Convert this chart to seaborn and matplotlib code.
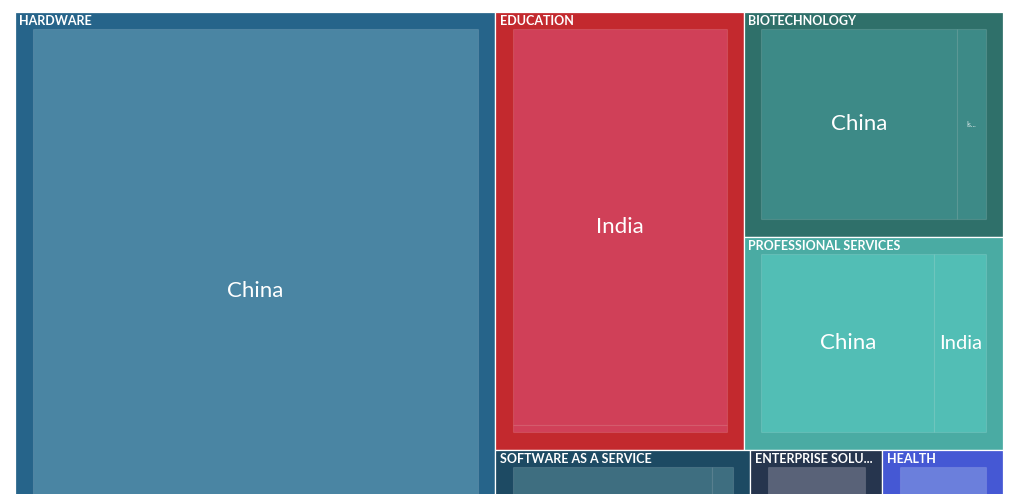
import matplotlib
matplotlib.use("Agg")
import matplotlib.pyplot as plt
from matplotlib.patches import Rectangle
import seaborn as sns

# Sector totals and the countries inside each sector
sectors = ["HARDWARE", "EDUCATION", "BIOTECHNOLOGY", "PROFESSIONAL SERVICES",
           "SOFTWARE AS A SERVICE", "ENTERPRISE SOLUTIONS", "HEALTH"]
sector_values = [268.0, 109.0, 58.3, 55.2, 30.6, 15.8, 14.5]
countries = [["China"], ["India", "China"], ["China", "Israel"], ["China", "India"],
             ["China", "India"], ["China"], ["China"]]
country_values = [[268.0], [107.1, 1.9], [50.7, 7.6], [42.5, 12.7],
                  [27.6, 3.0], [15.8], [14.5]]

outer_colors = ["#26648A", "#C3292E", "#2F706A", "#4AABA3", "#1D4A63", "#26354E", "#4558D4"]
inner_colors = ["#4A85A3", "#D04058", "#3D8A87", "#52BEB5", "#3E6E80", "#596278", "#6B7FDC"]

# nesting of the tiles (h = side by side, v = stacked)
groups = ("h", [0, ("v", [("h", [1, ("v", [2, 3])]), ("h", [4, 5, 6])])])

W, H = 988.0, 558.0
VISIBLE = 482.0  # part of the treemap that fits in the picture
PAD_L, PAD_R, PAD_T, PAD_B = 17.5, 17.0, 17.0, 18.0


def total(node):
    if isinstance(node, int):
        return sector_values[node]
    return sum(total(k) for k in node[1])


def place(node, x, y, w, h, out):
    if isinstance(node, int):
        out[node] = (x, y, w, h)
        return
    d, kids = node
    s = total(node)
    for k in kids:
        f = total(k) / s
        if d == "h":
            place(k, x, y, w * f, h, out)
            x += w * f
        else:
            place(k, x, y, w, h * f, out)
            y += h * f


def split(vals, x, y, w, h):
    s = sum(vals)
    rects = []
    for v in vals:
        f = v / s
        if w >= h:
            rects.append((x, y, w * f, h))
            x += w * f
        else:
            rects.append((x, y, w, h * f))
            y += h * f
    return rects


sns.set_style("white")
plt.rcParams["font.family"] = ["Lato", "DejaVu Sans"]

fig = plt.figure(figsize=(10.24, 4.94), dpi=100)
ax = fig.add_axes([15 / 1024, (494 - 12 - H) / 494, W / 1024, H / 494])
ax.set_xlim(0, W)
ax.set_ylim(H, 0)
ax.axis("off")
fig.canvas.draw()
renderer = fig.canvas.get_renderer()


def fit_text(t, maxw):
    txt = t.get_text()
    while t.get_window_extent(renderer).width > maxw and len(txt) > 1:
        txt = txt[:-1]
        t.set_text(txt.rstrip() + "...")


tiles = {}
place(groups, 0, 0, W, H, tiles)

for i, name in enumerate(sectors):
    x, y, w, h = tiles[i]
    ax.add_patch(Rectangle((x, y), w, h, facecolor=outer_colors[i],
                           edgecolor="white", lw=0.9, zorder=1))
    t = ax.text(x + 4.5, y + 9, name, color="white", fontsize=9,
                fontweight="bold", va="center", ha="left", zorder=5)
    fit_text(t, w - 10)

    ix, iy = x + PAD_L, y + PAD_T
    iw, ih = w - PAD_L - PAD_R, h - PAD_T - PAD_B
    for cname, (cx, cy, cw, ch) in zip(countries[i], split(country_values[i], ix, iy, iw, ih)):
        ax.add_patch(Rectangle((cx, cy), cw, ch, facecolor=inner_colors[i],
                               edgecolor=(1, 1, 1, 0.12), lw=0.8, zorder=2))
        if ch < 14 or cy + ch / 2 > VISIBLE - 12:
            continue
        t = ax.text(cx + cw / 2, cy + ch / 2, cname, color="white", fontsize=16,
                    ha="center", va="center", zorder=5)
        fs = 16
        while t.get_window_extent(renderer).width > cw - 8 and fs > 8:
            fs -= 0.5
            t.set_fontsize(fs)
        if t.get_window_extent(renderer).width > cw - 8:
            t.set_fontsize(5)
            t.set_text(cname[:2] + "...")
            t.set_alpha(0.8)

fig.savefig("out.png", dpi=100)
